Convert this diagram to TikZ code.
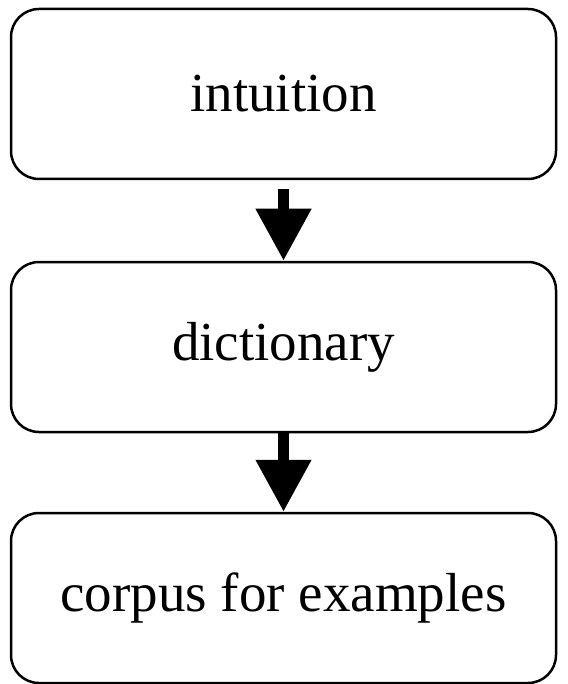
\documentclass[tikz,border=0pt]{standalone}
\usepackage{fontspec}
\setmainfont{Liberation Serif}
\usetikzlibrary{arrows.meta}

\tikzset{
  stage/.style={draw, line width=2.5pt, rounded corners=28pt, minimum width=545pt, minimum height=170pt, font=\fontsize{55}{60}\selectfont},
  flow/.style={line width=11pt, -{Triangle[width=53pt, length=52pt]}}
}

\begin{document}
\begin{tikzpicture}[x=1pt, y=-1pt]
\useasboundingbox (0,0) rectangle (567,684);

\node[stage] (intuition) at (283.5,94) {intuition};
\node[stage] (dictionary) at (283.5,347) {dictionary};
\node[stage] (corpus) at (283.5,598) {corpus for examples};

\draw[flow] ([yshift=-9pt]intuition.south) -- (dictionary.north);
\draw[flow] (dictionary.south) -- (corpus.north);

\end{tikzpicture}
\end{document}
